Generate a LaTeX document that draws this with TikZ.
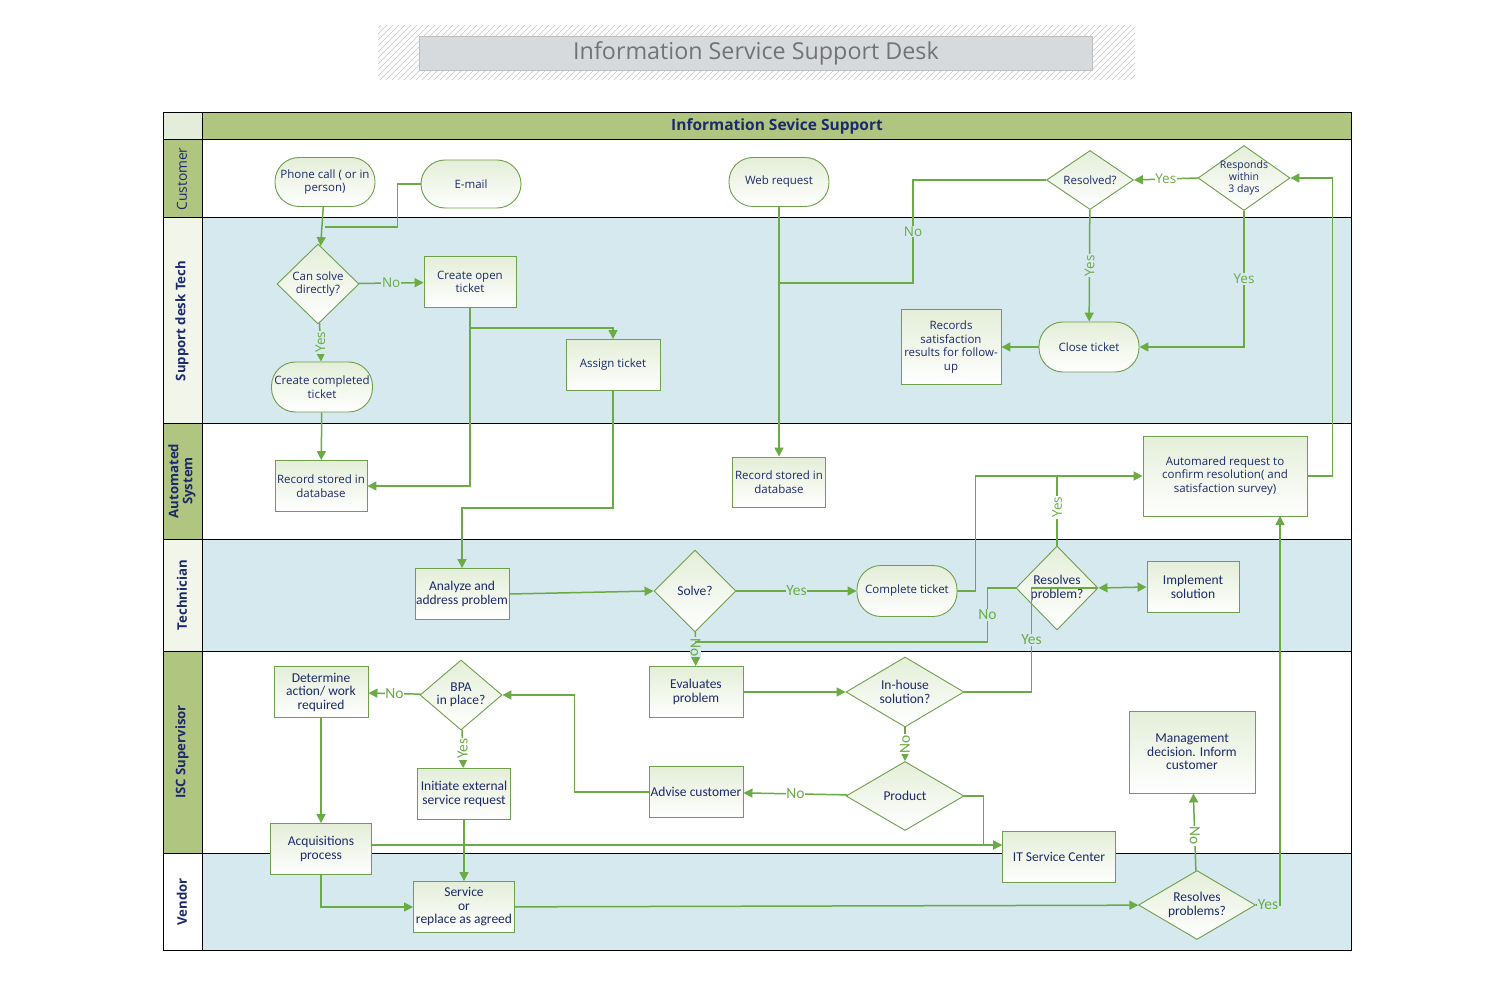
\documentclass[tikz,border=0pt]{standalone}
\usepackage{fontspec}
\setmainfont{Open Sans}
\newfontfamily\calib{Carlito}
\usepackage{tikz}
\usetikzlibrary{arrows.meta,shapes.geometric,positioning}

\definecolor{laneblue}{HTML}{D5E9EF}
\definecolor{headgreen}{HTML}{B0C680}
\definecolor{headlight}{HTML}{F1F5EA}
\definecolor{cornergreen}{HTML}{E3EDD9}
\definecolor{flowgreen}{HTML}{6AAB44}
\definecolor{edgegreen}{HTML}{6E9F4B}
\definecolor{inkblue}{HTML}{1C2A6B}
\definecolor{shapetint}{HTML}{E4EED8}
\definecolor{titlegrey}{HTML}{D7DADD}

\tikzset{
  box/.style={draw=edgegreen, line width=0.9pt, top color=shapetint, bottom color=white,
    text=inkblue, align=center, inner sep=1pt, font=\fontsize{11.5}{13.5}\selectfont},
  cbox/.style={box, font=\calib\fontsize{13.5}{13.5}\selectfont},
  term/.style={box, rounded corners=24pt},
  decide/.style={box, diamond, inner sep=-9pt},
  cdecide/.style={decide, font=\calib\fontsize{13.5}{13.5}\selectfont},
  flow/.style={draw=flowgreen, line width=1.5pt, -{Triangle[width=9pt,length=9pt]}},
  link/.style={draw=flowgreen, line width=1.5pt},
  ans/.style={text=flowgreen, inner sep=0.8pt, font=\fontsize{13.5}{13.5}\selectfont},
  cans/.style={ans, font=\calib\fontsize{15.5}{15.5}\selectfont},
  lanehead/.style={text=inkblue, rotate=90, align=center, font=\bfseries\fontsize{13.2}{14}\selectfont}
}

\begin{document}
\begin{tikzpicture}[x=1pt, y=-1pt]
  \useasboundingbox (0,0) rectangle (1500,1000);

  % title
  \begin{scope}
    \clip (378,25) rectangle (1135,80);
    \foreach \i in {320,326,...,1140}
      \draw[gray!45, line width=0.5pt] (\i,80) -- ++(55,-55);
  \end{scope}
  \draw (756,53) node[draw=gray!50, fill=titlegrey, minimum width=673, minimum height=34,
    text=gray!110, font=\fontsize{23.3}{26}\selectfont] (title) {Information Service Support Desk};

  % lanes
  \fill[white] (163,140) rectangle (1351,218);
  \fill[laneblue] (163,218) rectangle (1351,423);
  \fill[white] (163,423) rectangle (1351,539);
  \fill[laneblue] (163,539) rectangle (1351,651);
  \fill[white] (163,651) rectangle (1351,853);
  \fill[laneblue] (163,853) rectangle (1351,950);
  \fill[headgreen] (202,113) rectangle (1351,140);
  \fill[cornergreen] (163,113) rectangle (202,140);
  \fill[headgreen] (163,140) rectangle (202,218);
  \fill[headlight] (163,218) rectangle (202,423);
  \fill[headgreen] (163,423) rectangle (202,539);
  \fill[headlight] (163,539) rectangle (202,651);
  \fill[headgreen] (163,651) rectangle (202,853);
  \fill[white] (163,853) rectangle (202,950);
  \draw[line width=1pt] (163,113) rectangle (1351,950);
  \foreach \y in {140,218,423,539,651,853}
    \draw[line width=1pt] (163,\y) -- (1351,\y);
  \draw[line width=1pt] (202,113) -- (202,950);

  \draw (777,126) node[text=inkblue, font=\bfseries\fontsize{15.5}{16}\selectfont] (header) {Information Sevice Support};
  \draw (182,179) node[lanehead, font=\fontsize{13.8}{14}\selectfont] (customer) {Customer};
  \draw (182,321) node[lanehead] (deskTech) {Support desk Tech};
  \draw (182,481) node[lanehead] (autoSys) {Automated\\System};
  \draw (182,595) node[lanehead] (technician) {Technician};
  \draw (182,752) node[lanehead] (supervisor) {ISC Supervisor};
  \draw (182,902) node[lanehead] (vendor) {Vendor};

  % customer
  \draw (325,182) node[term, minimum width=100, minimum height=49] (phone) {Phone call ( or in\\person)};
  \draw (471,184) node[term, minimum width=100, minimum height=48] (email) {E-mail};
  \draw (779,182) node[term, minimum width=100, minimum height=49] (web) {Web request};
  \draw (1090,180) node[decide, minimum width=87, minimum height=59] (resolved) {Resolved?};
  \draw (1244,178) node[decide, minimum width=92, minimum height=65, font=\fontsize{10.5}{12}\selectfont] (responds) {Responds\\within\\3 days};

  % support desk tech
  \draw (318,284) node[decide, minimum width=82, minimum height=80] (canSolve) {Can solve\\directly?};
  \draw (470,282) node[box, minimum width=92, minimum height=51] (openTicket) {Create open\\ticket};
  \draw (613,365) node[box, minimum width=94, minimum height=51] (assign) {Assign ticket};
  \draw (322,387) node[term, minimum width=101, minimum height=50] (completed) {Create completed\\ticket};
  \draw (951,347) node[box, minimum width=100, minimum height=75] (records) {Records\\satisfaction\\results for follow-\\up};
  \draw (1089,347) node[term, minimum width=100, minimum height=50] (close) {Close ticket};

  % automated system
  \draw (321,486) node[box, minimum width=92, minimum height=51] (recLeft) {Record stored in\\database};
  \draw (779,482) node[box, minimum width=93, minimum height=50] (recMid) {Record stored in\\database};
  \draw (1225,476) node[box, minimum width=164, minimum height=80] (autoReq) {Automared request to\\confirm resolution( and\\satisfaction survey)};

  % technician
  \draw (462,594) node[cbox, minimum width=93, minimum height=51] (analyze) {Analyze and\\address problem};
  \draw (695,591) node[cdecide, minimum width=82, minimum height=82] (solve) {Solve?};
  \draw (907,591) node[term, minimum width=100, minimum height=51] (complete) {Complete ticket};
  \draw (1057,588) node[cdecide, minimum width=82, minimum height=84] (resolves) {Resolves\\problem?};
  \draw (1193,587) node[cbox, minimum width=92, minimum height=51] (implement) {Implement\\solution};

  % isc supervisor
  \draw (321,692) node[cbox, minimum width=94, minimum height=51] (determine) {Determine\\action/ work\\required};
  \draw (461,695) node[cdecide, minimum width=82, minimum height=70] (bpa) {BPA\\in place?};
  \draw (464,794) node[cbox, minimum width=93, minimum height=51] (initiate) {Initiate external\\service request};
  \draw (696,692) node[cbox, minimum width=94, minimum height=51] (evaluates) {Evaluates\\problem};
  \draw (696,792) node[cbox, minimum width=94, minimum height=51] (advise) {Advise customer};
  \draw (905,692) node[cdecide, minimum width=118, minimum height=70] (inHouse) {In-house\\solution?};
  \draw (905,796) node[cdecide, minimum width=118, minimum height=69] (product) {Product};
  \draw (1192,752) node[cbox, minimum width=126, minimum height=82] (manage) {Management\\decision. Inform\\customer};
  \draw (321,849) node[cbox, minimum width=101, minimum height=51] (acquire) {Acquisitions\\process};
  \draw (1059,857) node[cbox, minimum width=113, minimum height=51] (itCenter) {IT Service Center};

  % vendor
  \draw (464,907) node[cbox, minimum width=101, minimum height=51] (service) {Service\\or\\replace as agreed};
  \draw (1197,905) node[cdecide, minimum width=117, minimum height=69] (resolves2) {Resolves\\problems?};

  % junctions
  \coordinate (phoneJoin) at (325,227);
  \coordinate (webJoin) at (779,283);
  \coordinate (openJoin) at (470,328);
  \coordinate (solveJoin) at (695,642);
  \coordinate (itIn) at (1002,845);
  \coordinate (autoIn) at (1280,516);

  % connectors
  \path (phone) edge[flow] (canSolve);
  \draw[link] (email.west) -- ++(-23,0) |- (phoneJoin);
  \path (canSolve) edge[flow] node[ans, fill=laneblue] {No} (openTicket);
  \path (canSolve) edge[flow] node[ans, fill=laneblue, rotate=90] {Yes} (completed);
  \path (completed) edge[flow] (recLeft);
  \draw[flow] (openTicket.south) |- (recLeft.east);
  \draw[flow] (openJoin) -| (assign.north);
  \draw[flow] (assign.south) -- ++(0,117) -| (analyze.north);
  \path (web) edge[flow] (recMid);
  \draw[link] (resolved.west) -- ++(-133,0) |- node[ans, fill=laneblue, pos=0.25] {No} (webJoin);
  \path (resolved) edge[flow] node[ans, fill=laneblue, rotate=90, pos=0.5] {Yes} (close);
  \path (responds.west) edge[flow] node[ans, fill=white] {Yes} (resolved.east);
  \draw[flow] (responds.south) |- node[ans, fill=laneblue, pos=0.25] {Yes} (close.east);
  \path (close) edge[flow] (records);

  \path (analyze.east) edge[flow] (solve.west);
  \path (solve) edge[flow] node[cans, fill=laneblue] {Yes} (complete);
  \path (solve) edge[flow] node[cans, fill=laneblue, rotate=-90, pos=0.45] {No} (evaluates);
  \draw[flow] (complete.east) -- ++(18,0) |- (autoReq.west);
  \draw[link] (resolves.north) -- node[ans, fill=white, rotate=90, pos=0.55] {Yes} (resolves.north |- autoReq.west);
  \draw[link] (resolves.west) -- ++(-28,0) |- node[cans, fill=laneblue, pos=0.25] {No} (solveJoin);
  \draw[link] (inHouse.east) -- ++(67,0) |- node[cans, fill=laneblue, pos=0.25] {Yes} (resolves.east);
  \draw[flow, {Triangle[width=9pt,length=9pt]}-{Triangle[width=9pt,length=9pt]}] (resolves.east) -- (implement.west);
  \draw[flow] (autoReq.east) -- ++(25,0) |- (responds.east);

  \path (evaluates) edge[flow] (inHouse);
  \path (inHouse) edge[flow] node[cans, fill=white, rotate=90] {No} (product);
  \path (product) edge[flow] node[cans, fill=white] {No} (advise);
  \draw[flow] (product.east) -- ++(19,0) |- (itIn);
  \draw[flow] (acquire.east |- itIn) -- (itIn);
  \draw[flow] (advise.west) -- ++(-74,0) |- (bpa.east);
  \path (bpa) edge[flow] node[cans, fill=white] {No} (determine);
  \path (bpa) edge[flow] node[cans, fill=white, rotate=90] {Yes} (initiate);
  \path (initiate) edge[flow] (service);
  \path (determine) edge[flow] (acquire);
  \draw[flow] (acquire.south) |- (service.west);
  \path (service) edge[flow] (resolves2);
  \path (resolves2) edge[flow] node[cans, fill=white, rotate=-90, pos=0.45] {No} (manage);
  \draw[flow] (resolves2.east) -| node[cans, fill=laneblue, pos=0.25] {Yes} (autoIn);
\end{tikzpicture}
\end{document}
